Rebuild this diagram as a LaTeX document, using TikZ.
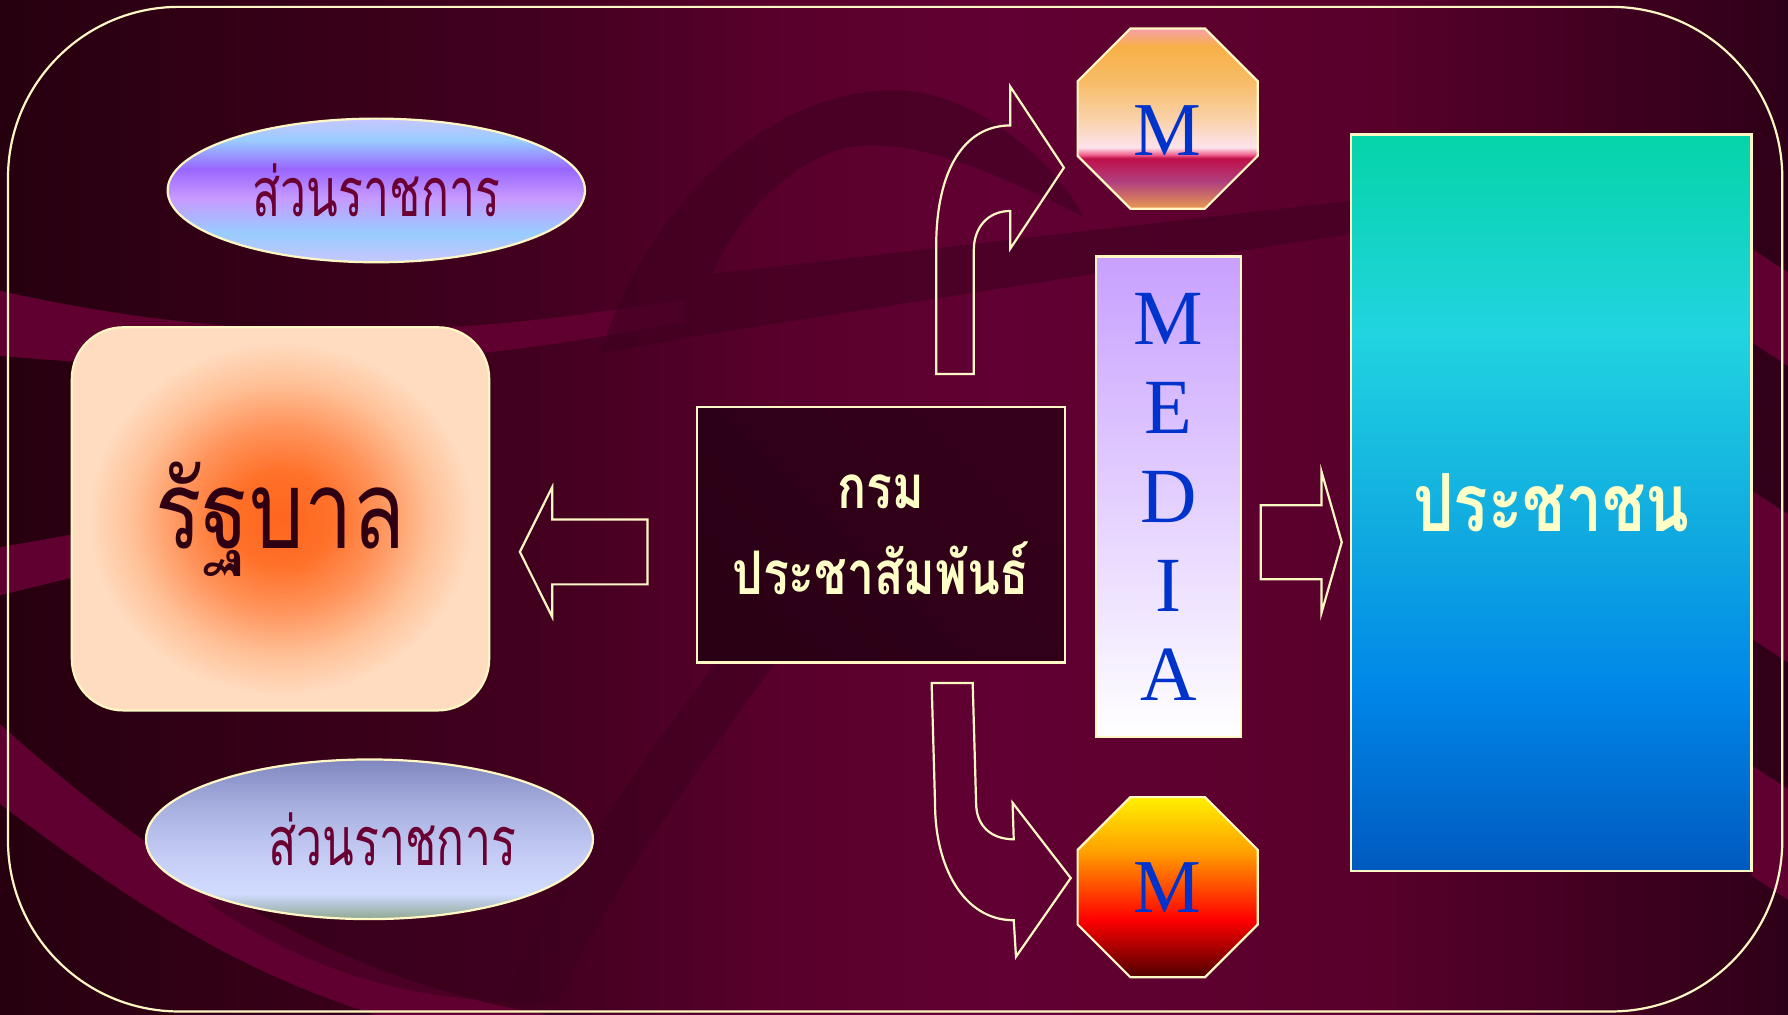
\documentclass[tikz,border=0pt]{standalone}
\usepackage{fontspec}
\setmainfont{Liberation Serif}
\newfontfamily\thaifont[Script=Thai,FakeStretch=0.8]{Loma}
\newfontfamily\officefont[Script=Thai,FakeStretch=0.68]{Loma}
\usepackage{tikz}
\usetikzlibrary{shapes.geometric,shapes.arrows,calc}

\definecolor{cream}{HTML}{FFF8C4}
\definecolor{wine}{HTML}{600030}
\definecolor{winedark}{HTML}{3C001E}
\definecolor{mblue}{HTML}{0033CC}
\definecolor{titlecream}{HTML}{FFFFC8}
\definecolor{officetext}{HTML}{6A0032}
\definecolor{govtext}{HTML}{2E0012}
\definecolor{mediatop}{HTML}{C8A0FF}

\pgfdeclarehorizontalshading{bgshade}{100bp}{rgb(0bp)=(0.15,0,0.06); rgb(25bp)=(0.15,0,0.06);
  rgb(40bp)=(0.26,0,0.12); rgb(47bp)=(0.35,0,0.17); rgb(53bp)=(0.38,0,0.2);
  rgb(63bp)=(0.35,0,0.17); rgb(75bp)=(0.18,0,0.09); rgb(100bp)=(0.18,0,0.09)}
\pgfdeclareverticalshading{octtop}{100bp}{rgb(0bp)=(0.91,0.6,0.31); rgb(25bp)=(0.91,0.6,0.31);
  rgb(32.5bp)=(0.69,0.25,0.5); rgb(39bp)=(0.75,0.06,0.29); rgb(40bp)=(0.94,0.38,0.56);
  rgb(42bp)=(0.99,0.89,0.93); rgb(50bp)=(0.98,0.82,0.66); rgb(60bp)=(0.97,0.74,0.41);
  rgb(70bp)=(0.97,0.69,0.28); rgb(75bp)=(0.97,0.63,0.66); rgb(100bp)=(0.97,0.63,0.66)}
\pgfdeclareverticalshading{octbottom}{100bp}{rgb(0bp)=(0.31,0,0); rgb(25bp)=(0.31,0,0);
  rgb(41bp)=(1,0,0); rgb(60bp)=(1,0.63,0); rgb(75bp)=(1,0.94,0); rgb(100bp)=(1,0.94,0)}
\pgfdeclareverticalshading{officeup}{100bp}{rgb(0bp)=(0.78,0.78,1); rgb(25bp)=(0.78,0.78,1);
  rgb(35bp)=(0.6,0.8,1); rgb(47.5bp)=(0.78,0.6,1); rgb(57.5bp)=(0.6,0.4,1);
  rgb(67.5bp)=(0.6,0.8,1); rgb(75bp)=(0.78,0.78,1); rgb(100bp)=(0.78,0.78,1)}
\pgfdeclareverticalshading{officedown}{100bp}{rgb(0bp)=(0.56,0.66,0.56); rgb(25bp)=(0.56,0.66,0.56);
  rgb(30bp)=(0.72,0.78,0.85); rgb(33bp)=(0.82,0.86,1); rgb(45bp)=(0.77,0.8,0.96);
  rgb(60bp)=(0.66,0.69,0.88); rgb(75bp)=(0.5,0.53,0.75); rgb(100bp)=(0.5,0.53,0.75)}
\pgfdeclareverticalshading{peopleshade}{100bp}{rgb(0bp)=(0,0.35,0.75); rgb(25bp)=(0,0.35,0.75);
  rgb(37.5bp)=(0,0.53,0.91); rgb(47.5bp)=(0.06,0.66,0.88); rgb(61.5bp)=(0.13,0.83,0.88);
  rgb(75bp)=(0.02,0.83,0.66); rgb(100bp)=(0.02,0.83,0.66)}
\pgfdeclareradialshading{govglow}{\pgfpoint{0bp}{0bp}}{rgb(0bp)=(1,0.4,0.12); rgb(6bp)=(1,0.44,0.16);
  rgb(12bp)=(1,0.58,0.36); rgb(18bp)=(1,0.76,0.6); rgb(23bp)=(1,0.86,0.75); rgb(50bp)=(1,0.86,0.75)}

\begin{document}
\begin{tikzpicture}[x=0.1mm,y=-0.1mm,line width=0.55pt]
  \tikzstyle{outline}=[draw=cream,line width=0.55pt]
  \tikzstyle{swoosh}=[fill=wine,draw=none]
  \tikzstyle{shadow}=[fill=winedark,fill opacity=0.55,draw=none]
  \tikzstyle{office}=[ellipse,outline,inner sep=0pt,text=officetext,
                      font=\officefont\fontsize{17}{20}\selectfont]
  \tikzstyle{octa}=[regular polygon,regular polygon sides=8,minimum size=17.1mm,
                    outline,inner sep=0pt,text=mblue,font=\fontsize{19}{22}\selectfont]
  \tikzstyle{blockarrow}=[single arrow,outline,inner xsep=0pt]

  \useasboundingbox (0,0) rectangle (1568,890);
  \shade[shading=bgshade] (0,0) rectangle (1568,890);

  % swooshes behind everything
  \fill[swoosh] (0,255) .. controls (200,300) and (380,300) .. (600,262)
        -- (600,282) .. controls (380,325) and (200,330) .. (0,312) -- cycle;
  \fill[swoosh] (0,480) -- (90,464) -- (90,500) -- (0,522) -- cycle;
  \fill[swoosh] (0,635) .. controls (150,770) and (300,860) .. (480,890)
        -- (330,890) .. controls (200,850) and (100,780) .. (0,705) -- cycle;
  \fill[shadow] (526,310) .. controls (580,150) and (700,70) .. (800,80)
        .. controls (870,90) and (930,150) .. (950,190)
        .. controls (870,150) and (800,120) .. (745,129)
        .. controls (690,140) and (640,200) .. (625,240) -- (602,296) -- cycle;
  \fill[shadow] (602,296) -- (625,240) -- (1185,176) -- (1185,205) -- cycle;
  \fill[shadow] (628,581) -- (680,581) .. controls (600,690) and (530,790) .. (488,880)
        -- (440,880) .. controls (490,770) and (560,670) .. (628,581) -- cycle;
  \fill[shadow] (180,790) .. controls (280,860) and (380,880) .. (470,878)
        -- (500,770) -- cycle;
  \fill[swoosh] (1536,218) -- (1568,239) -- (1568,321) -- (1536,300) -- cycle;
  \fill[swoosh] (1536,430) -- (1568,451) -- (1568,581) -- (1536,560) -- cycle;
  \fill[swoosh] (1536,671) -- (1568,692) -- (1568,789) -- (1536,768) -- cycle;

  \draw[outline,rounded corners=15mm] (7,6) rectangle (1563,887);

  \node[office,shading=officeup,minimum width=36.6mm,minimum height=12.6mm]
        (office1) at (330,167) {ส่วนราชการ};
  \node[office,shading=officedown,minimum width=39.2mm,minimum height=14mm]
        (office2) at (324,736) {\hspace*{4mm}ส่วนราชการ};

  \node[rectangle,outline,rounded corners=4.5mm,shading=govglow,
        minimum width=36.6mm,minimum height=33.6mm,text=govtext,
        font=\thaifont\fontsize{27}{30}\selectfont] (gov) at (246,455) {รัฐบาล};

  \node[rectangle,outline,bottom color=winedark!70!black,top color=winedark!120!wine,
        shading angle=-45,minimum width=32.3mm,minimum height=22.4mm,align=center,
        text=titlecream,font=\thaifont\bfseries\fontsize{15}{21.3}\selectfont]
        (dept) at (772.5,469) {กรม\\ประชาสัมพันธ์};

  \node[rectangle,outline,top color=mediatop,bottom color=white,
        minimum width=12.7mm,minimum height=42.1mm,align=center,text=mblue,
        font=\fontsize{19.5}{22.2}\selectfont] (media) at (1024.5,435.5) {M\\E\\D\\I\\A};

  \node[octa,shading=octtop,text height=18.5pt,text depth=0pt] (m1) at (1024,104) {M};
  \node[octa,shading=octbottom] (m2) at (1024,778) {M};

  \node[rectangle,outline,shading=peopleshade,minimum width=35.1mm,minimum height=64.6mm,
        text=titlecream,font=\thaifont\bfseries\fontsize{20}{24}\selectfont]
        (people) at (1360.5,441) {ประชาชน};

  % block arrows
  \node[blockarrow,shape border rotate=180,minimum height=11.2mm,inner ysep=2.75mm,
        single arrow head extend=2.85mm,single arrow tip angle=127] (togov) at (519,484) {};
  \node[blockarrow,minimum height=7.1mm,inner ysep=3.15mm,
        single arrow head extend=2.95mm,single arrow tip angle=148] (topeople) at (1136.5,475.5) {};

  % curved arrows to the two M boxes
  \coordinate (upfoot) at (821,328);
  \coordinate (downtop) at (817,599);
  \draw[outline] (upfoot) -- (821,216) .. controls (821,150) and (845,110) .. (886,110)
        -- (886,76) -- (933,147) -- (886,218) -- (886,185)
        .. controls (866,185) and (854,200) .. (854,219) -- (854,328) -- cycle;
  \draw[outline] (downtop) -- (853,599) -- (856,704) .. controls (856,725) and (870,736) .. (889,736)
        -- (888,704) -- (939,770) -- (891,839) -- (889,807)
        .. controls (845,807) and (820,760) .. (820,705) -- cycle;
\end{tikzpicture}
\end{document}
